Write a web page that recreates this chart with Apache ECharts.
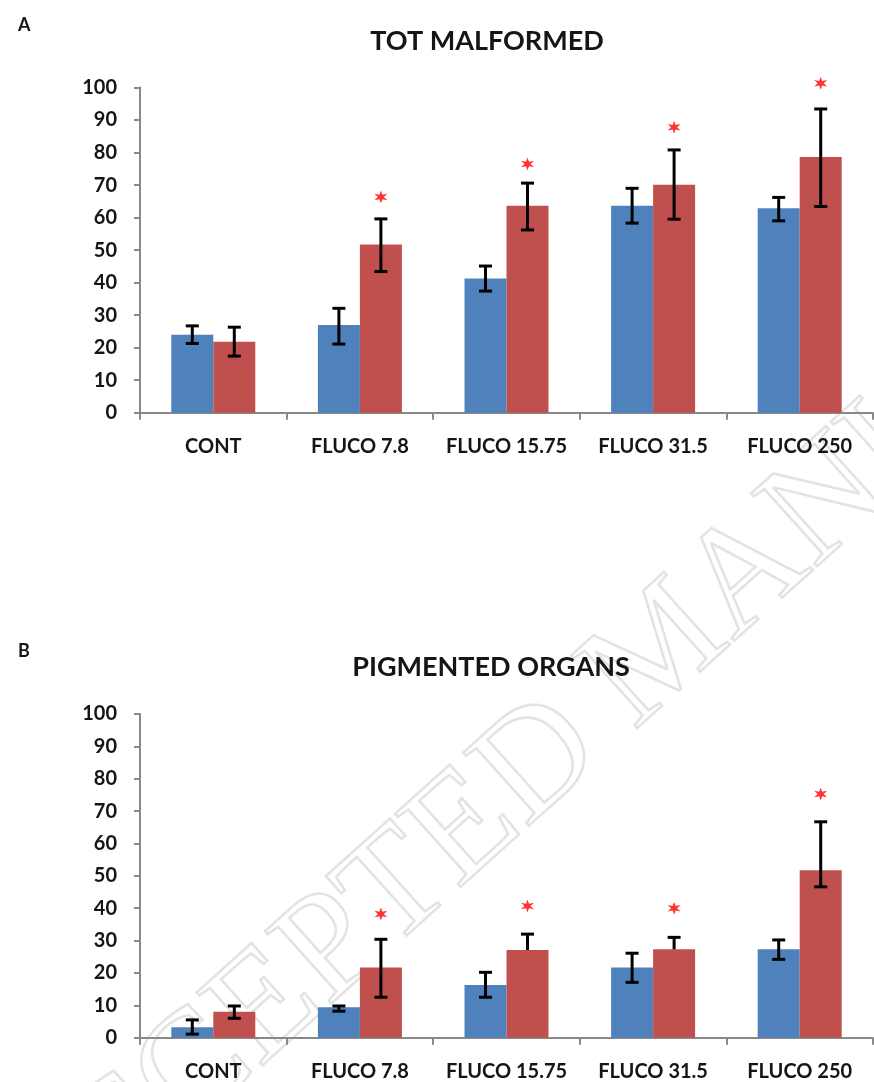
<!DOCTYPE html>
<html>
<head>
<meta charset="utf-8">
<script src="https://cdn.jsdelivr.net/npm/echarts@6/dist/echarts.min.js"></script>
<style>html,body{margin:0;padding:0;background:#fff;}#chart{width:874px;height:1082px;}</style>
</head>
<body>
<div id="chart"></div>
<script>
// ---- data ----
const categories = ['CONT', 'FLUCO 7.8', 'FLUCO 15.75', 'FLUCO 31.5', 'FLUCO 250'];
const yTicks = { min: 0, max: 100, interval: 10 };

// Panel A: TOT MALFORMED
const aBlue = [24.0, 27.0, 41.3, 63.6, 62.9];
const aBlueLow = [21.3, 21.1, 37.4, 58.3, 59.0];
const aBlueHigh = [26.7, 32.1, 45.1, 69.0, 66.2];
const aRed = [21.8, 51.7, 63.6, 70.1, 78.6];
const aRedLow = [17.4, 43.4, 56.2, 59.5, 63.4];
const aRedHigh = [26.3, 59.6, 70.6, 80.8, 93.4];
const aStars = [null, 66.3, 76.5, 87.8, 101.3];

// Panel B: PIGMENTED ORGANS
const bBlue = [3.2, 9.4, 16.3, 21.7, 27.3];
const bBlueLow = [1.1, 8.2, 12.5, 17.1, 24.2];
const bBlueHigh = [5.5, 9.8, 20.2, 26.1, 30.2];
const bRed = [8.0, 21.7, 27.1, 27.3, 51.7];
const bRedLow = [6.0, 12.5, 27.1, 27.3, 46.6];
const bRedHigh = [9.8, 30.4, 32.0, 31.0, 66.7];
const bStars = [null, 38.2, 40.7, 40.0, 75.3];

const titles = ['TOT MALFORMED', 'PIGMENTED ORGANS'];
const panelLetters = ['A', 'B'];

// ---- styling ----
const BLUE = '#4F81BD', RED = '#C0504D', AXIS = '#898989';
const BAR_W = 42;
const FONT = 'Lato, "Noto Sans", sans-serif';
const STAR = 'path://M10 0L12 6.5L18.66 5L14 10L18.66 15L12 13.5L10 20L8 13.5L1.34 15L6 10L1.34 5L8 6.5Z';

const grids = [
  { left: 140, right: 1, top: 87.5, height: 325.2 },
  { left: 140, right: 1, top: 714, height: 323.7 }
];

function xAxisOf(i) {
  return {
    type: 'category', gridIndex: i, data: categories,
    axisLine: { show: true, lineStyle: { color: AXIS, width: 2 } },
    axisTick: { show: true, length: 7, alignWithLabel: false, lineStyle: { color: AXIS, width: 2 } },
    axisLabel: { color: '#151515', fontSize: 20, fontWeight: 'bold', fontFamily: FONT, margin: 24, interval: 0 }
  };
}
function yAxisOf(i) {
  return {
    type: 'value', gridIndex: i, min: yTicks.min, max: yTicks.max, interval: yTicks.interval,
    axisLine: { show: true, lineStyle: { color: AXIS, width: 2 } },
    axisTick: { show: true, length: 6, lineStyle: { color: AXIS, width: 2 } },
    splitLine: { show: false },
    axisLabel: { color: '#151515', fontSize: 20, fontWeight: 'bold', fontFamily: FONT, margin: 23 }
  };
}

function errSeries(i, vals, lows, highs, offset) {
  return {
    type: 'custom', xAxisIndex: i, yAxisIndex: i, z: 5,
    data: vals.map((v, k) => [k, lows[k], highs[k], v]),
    renderItem: function (params, api) {
      const k = api.value(0), lo = api.value(1), hi = api.value(2), v = api.value(3);
      const pTop = api.coord([k, hi]);
      const pLo = api.coord([k, lo]);
      const x = pTop[0] + offset;
      const st = { stroke: '#000', lineWidth: 3 };
      const kids = [
        { type: 'line', shape: { x1: x, y1: pTop[1], x2: x, y2: pLo[1] }, style: st },
        { type: 'line', shape: { x1: x - 6.5, y1: pTop[1], x2: x + 6.5, y2: pTop[1] }, style: st }
      ];
      if (lo < v) kids.push({ type: 'line', shape: { x1: x - 6.5, y1: pLo[1], x2: x + 6.5, y2: pLo[1] }, style: st });
      return { type: 'group', children: kids };
    }
  };
}

function panelSeries(i, blue, bl, bh, red, rl, rh, stars) {
  return [
    { type: 'bar', xAxisIndex: i, yAxisIndex: i, data: blue, barWidth: BAR_W, barGap: '0%', itemStyle: { color: BLUE } },
    { type: 'bar', xAxisIndex: i, yAxisIndex: i, data: red, barWidth: BAR_W, barGap: '0%', itemStyle: { color: RED } },
    errSeries(i, blue, bl, bh, -BAR_W / 2),
    errSeries(i, red, rl, rh, BAR_W / 2),
    {
      type: 'scatter', xAxisIndex: i, yAxisIndex: i, clip: false, z: 6,
      data: stars.map((s, k) => s == null ? null : [k, s]).filter(d => d),
      symbol: STAR, symbolSize: 13, symbolOffset: [BAR_W / 2, 0],
      itemStyle: { color: '#ff0000' }
    }
  ];
}

const chart = echarts.init(document.getElementById('chart'), null, { renderer: 'canvas' });
chart.setOption({
  animation: false,
  backgroundColor: '#fff',
  title: [
    { text: titles[0], left: 482, top: 23, textAlign: 'center', textStyle: { fontFamily: FONT, fontSize: 27, fontWeight: 'bold', color: '#151515' } },
    { text: titles[1], left: 486, top: 649, textAlign: 'center', textStyle: { fontFamily: FONT, fontSize: 27, fontWeight: 'bold', color: '#151515' } },
    { text: panelLetters[0], left: 13, top: 11, textStyle: { fontFamily: FONT, fontSize: 18, fontWeight: 'bold', color: '#151515' } },
    { text: panelLetters[1], left: 13, top: 637, textStyle: { fontFamily: FONT, fontSize: 18, fontWeight: 'bold', color: '#151515' } }
  ],
  graphic: [{
    type: 'text', x: 665, y: 650, rotation: 0.733, z: -10, silent: true,
    style: { text: 'ACCEPTED MANUSCRIPT', font: '150px "Liberation Serif", serif', textAlign: 'center', textVerticalAlign: 'middle', fill: 'rgba(0,0,0,0)', stroke: '#e3e3e3', lineWidth: 2.5 }
  }],
  grid: grids,
  xAxis: [xAxisOf(0), xAxisOf(1)],
  yAxis: [yAxisOf(0), yAxisOf(1)],
  series: [].concat(
    panelSeries(0, aBlue, aBlueLow, aBlueHigh, aRed, aRedLow, aRedHigh, aStars),
    panelSeries(1, bBlue, bBlueLow, bBlueHigh, bRed, bRedLow, bRedHigh, bStars)
  )
});
</script>
</body>
</html>
